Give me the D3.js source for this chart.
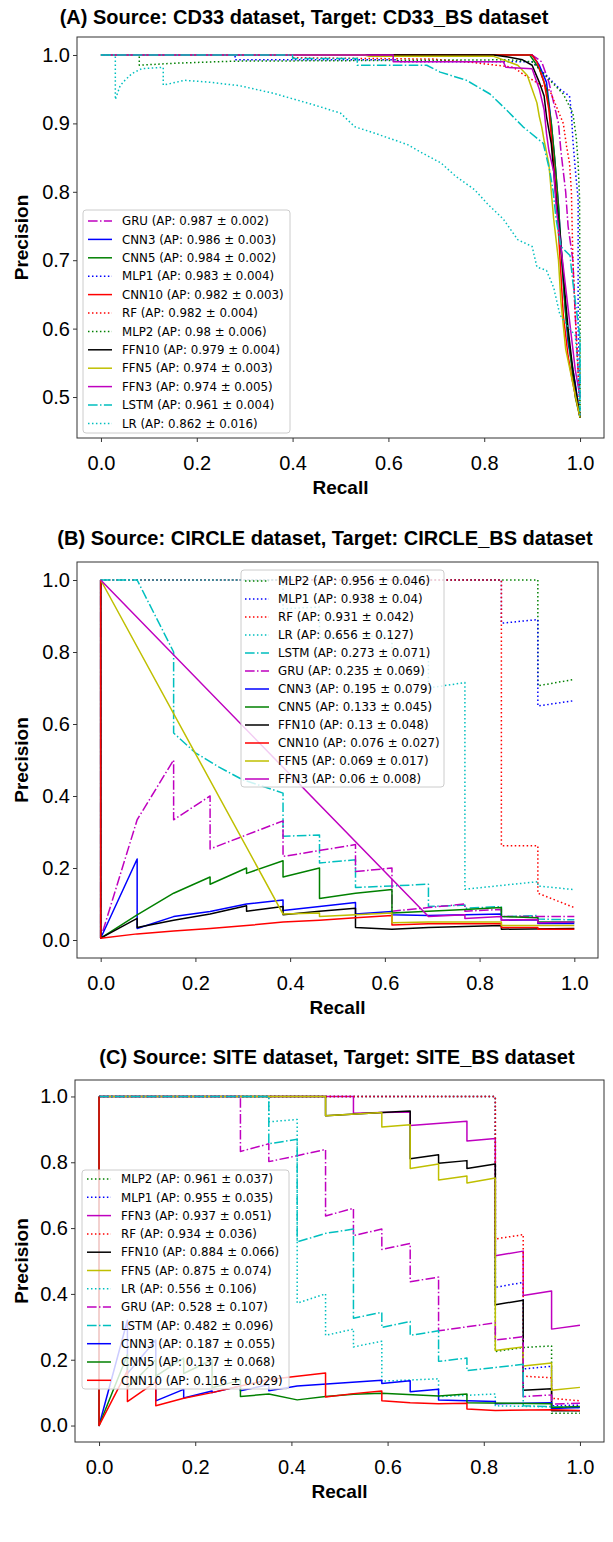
<!DOCTYPE html>
<html>
<head>
<meta charset="utf-8">
<script src="https://cdn.jsdelivr.net/npm/d3@7"></script>
<style>
  body { margin: 0; background: #fff; }
  svg { display: block; }
</style>
</head>
<body>
<script>
// ---------- Panel A: CD33 -> CD33_BS ----------
const A_models = ["GRU", "CNN3", "CNN5", "MLP1", "CNN10", "RF", "MLP2", "FFN10", "FFN5", "FFN3", "LSTM", "LR"];
const A_ap = ["0.987 ± 0.002", "0.986 ± 0.003", "0.984 ± 0.002", "0.983 ± 0.004", "0.982 ± 0.003", "0.982 ± 0.004",
              "0.98 ± 0.006", "0.979 ± 0.004", "0.974 ± 0.003", "0.974 ± 0.005", "0.961 ± 0.004", "0.862 ± 0.016"];
const A_GRU = [[0,1],[0.9,1],[0.92,0.99],[0.935,0.96],[0.945,0.93],[0.955,0.9],[0.96,0.86],[0.97,0.8],[0.975,0.75],[0.985,0.7],[0.99,0.62],[0.995,0.55],[1,0.5]];
const A_CNN3 = [[0,1],[0.9,1],[0.915,0.985],[0.93,0.96],[0.94,0.9],[0.948,0.84],[0.955,0.78],[0.962,0.7],[0.968,0.64],[0.975,0.58],[0.99,0.52],[1,0.47]];
const A_CNN5 = [[0,1],[0.895,1],[0.915,0.98],[0.93,0.95],[0.94,0.9],[0.947,0.85],[0.955,0.78],[0.962,0.7],[0.97,0.62],[0.98,0.56],[0.99,0.5],[1,0.47]];
const A_MLP1 = [[0,1],[0.28,1],[0.28,0.993],[0.62,0.993],[0.62,0.99],[0.9,0.99],[0.93,0.97],[0.958,0.95],[0.978,0.94],[0.982,0.915],[0.985,0.876],[0.989,0.842],[0.992,0.818],[0.996,0.79],[0.996,0.6],[1,0.52]];
const A_CNN10 = [[0,1],[0.9,1],[0.91,0.99],[0.925,0.96],[0.935,0.92],[0.94,0.88],[0.945,0.84],[0.95,0.8],[0.955,0.74],[0.96,0.68],[0.965,0.62],[0.975,0.56],[0.985,0.52],[1,0.47]];
const A_RF = [[0,1],[0.4,1],[0.4,0.996],[0.694,0.994],[0.778,0.989],[0.861,0.982],[0.881,0.972],[0.937,0.948],[0.951,0.924],[0.965,0.9],[0.972,0.866],[0.978,0.842],[0.982,0.8],[0.985,0.7],[0.99,0.62],[0.995,0.55],[1,0.47]];
const A_MLP2 = [[0,1],[0.08,1],[0.08,0.985],[0.154,0.988],[0.28,0.991],[0.6,0.992],[0.85,0.993],[0.9,0.99],[0.944,0.958],[0.965,0.943],[0.985,0.915],[0.992,0.88],[0.996,0.842],[0.999,0.79],[1,0.6],[1,0.47]];
const A_FFN10 = [[0,1],[0.82,1],[0.85,0.997],[0.88,0.993],[0.9,0.985],[0.915,0.96],[0.925,0.94],[0.93,0.91],[0.94,0.87],[0.945,0.83],[0.95,0.79],[0.958,0.74],[0.965,0.68],[0.975,0.6],[0.985,0.54],[1,0.47]];
const A_FFN5 = [[0,1],[0.55,1],[0.56,0.998],[0.82,0.998],[0.87,0.985],[0.89,0.97],[0.9,0.95],[0.91,0.93],[0.915,0.91],[0.92,0.895],[0.925,0.875],[0.935,0.84],[0.94,0.8],[0.945,0.76],[0.955,0.7],[0.96,0.64],[0.97,0.57],[0.985,0.52],[1,0.47]];
const A_FFN3 = [[0,1],[0.61,1],[0.61,0.99],[0.84,0.99],[0.845,0.982],[0.9,0.98],[0.915,0.95],[0.925,0.92],[0.93,0.885],[0.935,0.86],[0.945,0.83],[0.95,0.78],[0.96,0.72],[0.97,0.66],[0.98,0.6],[0.99,0.54],[1,0.5]];
const A_LSTM = [[0,1],[0.4,1],[0.4,0.995],[0.535,0.995],[0.535,0.985],[0.68,0.985],[0.708,0.975],[0.763,0.963],[0.812,0.943],[0.846,0.92],[0.881,0.895],[0.923,0.871],[0.937,0.83],[0.944,0.8],[0.95,0.76],[0.96,0.72],[0.979,0.707],[0.985,0.668],[1,0.586],[1,0.48]];
const A_LR = [[0,1],[0.03,1],[0.03,0.935],[0.04,0.955],[0.05,0.963],[0.065,0.973],[0.085,0.98],[0.13,0.982],[0.13,0.956],[0.175,0.963],[0.23,0.96],[0.29,0.955],[0.36,0.944],[0.44,0.928],[0.5,0.915],[0.53,0.895],[0.57,0.886],[0.64,0.869],[0.67,0.857],[0.71,0.842],[0.74,0.823],[0.78,0.803],[0.81,0.78],[0.84,0.76],[0.87,0.73],[0.9,0.72],[0.91,0.69],[0.93,0.685],[0.945,0.66],[0.958,0.62],[0.978,0.6],[0.99,0.59],[0.995,0.55],[1,0.47]];

// ---------- Panel B: CIRCLE -> CIRCLE_BS ----------
const B_models = ["MLP2", "MLP1", "RF", "LR", "LSTM", "GRU", "CNN3", "CNN5", "FFN10", "CNN10", "FFN5", "FFN3"];
const B_ap = ["0.956 ± 0.046", "0.938 ± 0.04", "0.931 ± 0.042", "0.656 ± 0.127", "0.273 ± 0.071", "0.235 ± 0.069",
              "0.195 ± 0.079", "0.133 ± 0.045", "0.13 ± 0.048", "0.076 ± 0.027", "0.069 ± 0.017", "0.06 ± 0.008"];
const B_MLP2 = [[0,1],[0.923,1],[0.923,0.706],[1,0.724]];
const B_MLP1 = [[0,1],[0.846,1],[0.846,0.88],[0.923,0.89],[0.923,0.65],[1,0.665]];
const B_RF = [[0,1],[0.846,1],[0.846,0.262],[0.923,0.262],[0.923,0.13],[1,0.09]];
const B_LR = [[0,1],[0.385,1],[0.385,0.92],[0.462,0.925],[0.462,0.84],[0.615,0.845],[0.615,0.78],[0.692,0.783],[0.692,0.7],[0.769,0.715],[0.769,0.141],[0.923,0.162],[0.923,0.15],[1,0.14]];
const B_LSTM = [[0,1],[0.077,1],[0.154,0.8],[0.154,0.575],[0.2,0.52],[0.25,0.48],[0.3,0.445],[0.385,0.408],[0.385,0.288],[0.462,0.292],[0.462,0.214],[0.538,0.223],[0.538,0.146],[0.615,0.15],[0.692,0.155],[0.692,0.093],[0.769,0.097],[0.769,0.088],[0.846,0.093],[0.846,0.065],[0.923,0.068],[0.923,0.058],[1,0.056]];
const B_GRU = [[0,1],[0,0.005],[0.077,0.334],[0.154,0.5],[0.154,0.334],[0.231,0.4],[0.231,0.253],[0.385,0.331],[0.385,0.232],[0.538,0.265],[0.538,0.19],[0.615,0.2],[0.615,0.08],[0.692,0.09],[0.769,0.1],[0.769,0.08],[0.846,0.085],[0.846,0.065],[1,0.065]];
const B_CNN3 = [[0,1],[0,0.005],[0.077,0.225],[0.077,0.032],[0.154,0.065],[0.231,0.079],[0.308,0.1],[0.385,0.111],[0.385,0.082],[0.462,0.093],[0.538,0.104],[0.538,0.072],[0.615,0.079],[0.615,0.07],[0.692,0.068],[0.769,0.07],[0.846,0.072],[0.846,0.055],[0.923,0.056],[0.923,0.046],[1,0.046]];
const B_CNN5 = [[0,1],[0,0.005],[0.077,0.07],[0.154,0.13],[0.231,0.175],[0.231,0.155],[0.308,0.2],[0.308,0.185],[0.385,0.22],[0.385,0.175],[0.462,0.2],[0.462,0.115],[0.538,0.13],[0.615,0.14],[0.615,0.075],[0.692,0.08],[0.769,0.085],[0.846,0.09],[0.846,0.065],[0.923,0.062],[0.923,0.05],[1,0.05]];
const B_FFN10 = [[0,1],[0,0.005],[0.077,0.06],[0.077,0.035],[0.154,0.055],[0.231,0.072],[0.308,0.095],[0.308,0.08],[0.385,0.093],[0.385,0.07],[0.462,0.08],[0.538,0.088],[0.538,0.035],[0.615,0.03],[0.692,0.035],[0.846,0.04],[0.846,0.03],[1,0.032]];
const B_CNN10 = [[0,1],[0,0.005],[0.077,0.017],[0.154,0.025],[0.231,0.032],[0.308,0.04],[0.385,0.05],[0.462,0.055],[0.538,0.062],[0.615,0.068],[0.615,0.042],[0.692,0.045],[0.769,0.045],[0.846,0.045],[0.846,0.035],[0.923,0.035],[0.923,0.03],[1,0.03]];
const B_FFN5 = [[0,1],[0.385,0.072],[0.462,0.075],[0.462,0.065],[0.538,0.07],[0.615,0.075],[0.615,0.048],[0.692,0.05],[0.769,0.05],[0.846,0.05],[0.846,0.04],[1,0.04]];
const B_FFN3 = [[0,1],[0.692,0.065],[0.769,0.07],[0.769,0.06],[0.846,0.065],[0.846,0.055],[0.923,0.057],[0.923,0.048],[1,0.05]];

// ---------- Panel C: SITE -> SITE_BS ----------
const C_models = ["MLP2", "MLP1", "FFN3", "RF", "FFN10", "FFN5", "LR", "GRU", "LSTM", "CNN3", "CNN5", "CNN10"];
const C_ap = ["0.961 ± 0.037", "0.955 ± 0.035", "0.937 ± 0.051", "0.934 ± 0.036", "0.884 ± 0.066", "0.875 ± 0.074",
              "0.556 ± 0.106", "0.528 ± 0.107", "0.482 ± 0.096", "0.187 ± 0.055", "0.137 ± 0.068", "0.116 ± 0.029"];
const C_MLP2 = [[0,1],[0.824,1],[0.824,0.225],[0.882,0.237],[0.941,0.242],[0.941,0.037],[1,0.037]];
const C_MLP1 = [[0,1],[0.824,1],[0.824,0.42],[0.882,0.435],[0.882,0.172],[0.941,0.18],[0.941,0.06],[1,0.062]];
const C_FFN3 = [[0,1],[0.529,1],[0.529,0.949],[0.588,0.951],[0.647,0.953],[0.647,0.912],[0.765,0.925],[0.765,0.865],[0.824,0.872],[0.824,0.516],[0.882,0.53],[0.882,0.395],[0.941,0.409],[0.941,0.293],[1,0.305]];
const C_RF = [[0,1],[0.824,1],[0.824,0.567],[0.882,0.58],[0.882,0.15],[0.941,0.145],[0.941,0.083],[1,0.075]];
const C_FFN10 = [[0,1],[0.471,1],[0.471,0.941],[0.588,0.951],[0.647,0.956],[0.647,0.811],[0.706,0.823],[0.706,0.797],[0.765,0.805],[0.765,0.781],[0.824,0.795],[0.824,0.367],[0.882,0.381],[0.882,0.107],[0.941,0.112],[0.941,0.045],[1,0.045]];
const C_FFN5 = [[0,1],[0.471,1],[0.471,0.941],[0.588,0.951],[0.588,0.907],[0.647,0.914],[0.647,0.781],[0.706,0.795],[0.706,0.746],[0.765,0.758],[0.765,0.737],[0.824,0.752],[0.824,0.228],[0.882,0.239],[0.882,0.181],[0.941,0.19],[0.941,0.107],[1,0.116]];
const C_LR = [[0,1],[0.353,1],[0.353,0.923],[0.412,0.93],[0.412,0.372],[0.471,0.4],[0.471,0.274],[0.529,0.293],[0.529,0.239],[0.588,0.256],[0.588,0.135],[0.706,0.142],[0.706,0.088],[0.824,0.096],[0.824,0.06],[1,0.055]];
const C_GRU = [[0,1],[0.294,1],[0.294,0.833],[0.353,0.856],[0.353,0.802],[0.412,0.82],[0.471,0.839],[0.471,0.637],[0.529,0.66],[0.529,0.577],[0.588,0.597],[0.588,0.535],[0.647,0.553],[0.647,0.437],[0.706,0.451],[0.706,0.288],[0.765,0.3],[0.824,0.312],[0.824,0.26],[0.882,0.27],[0.882,0.088],[0.941,0.093],[0.941,0.065],[1,0.068]];
const C_LSTM = [[0,1],[0.353,1],[0.353,0.856],[0.412,0.87],[0.412,0.558],[0.471,0.584],[0.529,0.597],[0.529,0.326],[0.588,0.344],[0.588,0.298],[0.647,0.316],[0.647,0.274],[0.706,0.288],[0.706,0.195],[0.765,0.205],[0.765,0.167],[0.882,0.186],[0.882,0.06],[1,0.055]];
const C_CNN3 = [[0,1],[0,0],[0.059,0.32],[0.059,0.158],[0.118,0.26],[0.118,0.075],[0.176,0.11],[0.176,0.084],[0.235,0.105],[0.235,0.1],[0.294,0.12],[0.294,0.106],[0.353,0.124],[0.353,0.106],[0.412,0.12],[0.588,0.138],[0.588,0.128],[0.647,0.136],[0.647,0.103],[0.706,0.11],[0.706,0.078],[0.824,0.073],[0.824,0.066],[0.941,0.069],[0.941,0.052],[1,0.055]];
const C_CNN5 = [[0,1],[0,0],[0.059,0.215],[0.059,0.115],[0.118,0.2],[0.118,0.15],[0.176,0.205],[0.176,0.158],[0.235,0.2],[0.235,0.115],[0.294,0.138],[0.294,0.088],[0.353,0.096],[0.412,0.078],[0.471,0.088],[0.529,0.095],[0.588,0.098],[0.706,0.09],[0.765,0.096],[0.765,0.069],[0.941,0.066],[0.941,0.055],[1,0.058]];
const C_CNN10 = [[0,1],[0,0],[0.059,0.167],[0.059,0.073],[0.118,0.133],[0.118,0.06],[0.176,0.083],[0.235,0.1],[0.294,0.12],[0.353,0.14],[0.412,0.15],[0.471,0.16],[0.471,0.087],[0.529,0.097],[0.588,0.105],[0.588,0.075],[0.647,0.069],[0.706,0.066],[0.765,0.068],[0.765,0.05],[0.824,0.046],[0.941,0.048],[1,0.046]];

// Tick values
const xTicks = [0, 0.2, 0.4, 0.6, 0.8, 1.0];
const yTicksA = [0.5, 0.6, 0.7, 0.8, 0.9, 1.0];
const yTicksBC = [0, 0.2, 0.4, 0.6, 0.8, 1.0];

// Line style per model (matplotlib single-letter colours)
const STYLE = {
  GRU:   { color: "#bf00bf", dash: "dashdot" },
  CNN3:  { color: "#0000ff", dash: "solid" },
  CNN5:  { color: "#008000", dash: "solid" },
  MLP1:  { color: "#0000ff", dash: "dotted" },
  CNN10: { color: "#ff0000", dash: "solid" },
  RF:    { color: "#ff0000", dash: "dotted" },
  MLP2:  { color: "#008000", dash: "dotted" },
  FFN10: { color: "#000000", dash: "solid" },
  FFN5:  { color: "#bfbf00", dash: "solid" },
  FFN3:  { color: "#bf00bf", dash: "solid" },
  LSTM:  { color: "#00bfbf", dash: "dashdot" },
  LR:    { color: "#00bfbf", dash: "dotted" }
};
const DASH = { solid: null, dotted: "1.5,2.475", dashdot: "9.6,2.4,1.5,2.4" };

const curvesA = { GRU: A_GRU, CNN3: A_CNN3, CNN5: A_CNN5, MLP1: A_MLP1, CNN10: A_CNN10, RF: A_RF, MLP2: A_MLP2,
                  FFN10: A_FFN10, FFN5: A_FFN5, FFN3: A_FFN3, LSTM: A_LSTM, LR: A_LR };
const curvesB = { MLP2: B_MLP2, MLP1: B_MLP1, RF: B_RF, LR: B_LR, LSTM: B_LSTM, GRU: B_GRU, CNN3: B_CNN3,
                  CNN5: B_CNN5, FFN10: B_FFN10, CNN10: B_CNN10, FFN5: B_FFN5, FFN3: B_FFN3 };
const curvesC = { MLP2: C_MLP2, MLP1: C_MLP1, FFN3: C_FFN3, RF: C_RF, FFN10: C_FFN10, FFN5: C_FFN5, LR: C_LR,
                  GRU: C_GRU, LSTM: C_LSTM, CNN3: C_CNN3, CNN5: C_CNN5, CNN10: C_CNN10 };

const W = 613, H = 1542;
const FONT = "'Liberation Sans', Arial, sans-serif";
const svg = d3.select("body").append("svg").attr("width", W).attr("height", H).style("font-family", FONT);

function drawPanel(p) {
  const g = svg.append("g");
  const x = d3.scaleLinear().domain([-0.05, 1.05]).range([p.left, p.right]);
  const y = d3.scaleLinear().domain(p.yDomain).range([p.bottom, p.top]);

  const clipId = "clip-" + p.id;
  svg.append("clipPath").attr("id", clipId)
    .append("rect").attr("x", p.left).attr("y", p.top)
    .attr("width", p.right - p.left).attr("height", p.bottom - p.top);

  // precision-recall curves
  const line = d3.line().x(d => x(d[0])).y(d => y(d[1]));
  const plot = g.append("g").attr("clip-path", `url(#${clipId})`);
  p.models.forEach(m => {
    const st = STYLE[m];
    plot.append("path")
      .attr("d", line(p.curves[m]))
      .attr("fill", "none")
      .attr("stroke", st.color)
      .attr("stroke-width", 1.5)
      .attr("stroke-linejoin", "round")
      .attr("stroke-dasharray", DASH[st.dash]);
  });

  // axes
  const xAxis = d3.axisBottom(x).tickValues(xTicks).tickFormat(d3.format(".1f")).tickSize(4);
  const yAxis = d3.axisLeft(y).tickValues(p.yTicks).tickFormat(d3.format(".1f")).tickSize(4).tickPadding(3);
  const gx = g.append("g").attr("transform", `translate(0,${p.bottom})`).call(xAxis);
  const gy = g.append("g").attr("transform", `translate(${p.left},0)`).call(yAxis);
  [gx, gy].forEach(a => {
    a.select(".domain").remove();
    a.selectAll(".tick line").attr("stroke", "#000").attr("stroke-width", 0.8);
    a.selectAll(".tick text").attr("fill", "#000").style("font-size", "20px").style("font-family", FONT);
  });
  gx.selectAll(".tick text").attr("y", 32).attr("dy", 0);

  // frame
  g.append("rect").attr("x", p.left).attr("y", p.top)
    .attr("width", p.right - p.left).attr("height", p.bottom - p.top)
    .attr("fill", "none").attr("stroke", "#333").attr("stroke-width", 1);

  // title and axis labels
  g.append("text").attr("x", p.titleX).attr("y", p.titleY).attr("text-anchor", "middle")
    .style("font-size", "20px").style("font-weight", "bold").text(p.title);
  g.append("text").attr("x", (p.left + p.right) / 2).attr("y", p.bottom + 56).attr("text-anchor", "middle")
    .style("font-size", "19px").style("font-weight", "bold").text("Recall");
  g.append("text").attr("transform", `translate(${p.ylabelX},${(p.top + p.bottom) / 2}) rotate(-90)`)
    .attr("text-anchor", "middle").style("font-size", "19px").style("font-weight", "bold").text("Precision");

  // legend
  const L = p.legend;
  const lg = g.append("g");
  lg.append("rect").attr("x", L.x).attr("y", L.y).attr("width", L.w).attr("height", L.h)
    .attr("rx", 3).attr("fill", "#fff").attr("fill-opacity", 0.8)
    .attr("stroke", "#cccccc").attr("stroke-width", 1);
  p.models.forEach((m, i) => {
    const st = STYLE[m];
    const yy = L.row0 + i * L.step;
    lg.append("line").attr("x1", L.hx0).attr("x2", L.hx1).attr("y1", yy).attr("y2", yy)
      .attr("stroke", st.color).attr("stroke-width", 1.5).attr("stroke-dasharray", DASH[st.dash]);
    lg.append("text").attr("x", L.tx).attr("y", yy).attr("dy", "0.36em")
      .style("font-family", "'DejaVu Sans', sans-serif").style("font-size", "11.8px").attr("fill", "#000")
      .text(`${m} (AP: ${p.ap[i]})`);
  });
}

drawPanel({
  id: "a", left: 77, right: 604, top: 37, bottom: 438, yDomain: [0.4401, 1.0263], yTicks: yTicksA,
  title: "(A) Source: CD33 dataset, Target: CD33_BS dataset", titleX: 304, titleY: 24, ylabelX: 28,
  models: A_models, ap: A_ap, curves: curvesA,
  legend: { x: 83, y: 210, w: 207, h: 223, row0: 221, step: 18.4, hx0: 88, hx1: 112, tx: 122 }
});
drawPanel({
  id: "b", left: 77, right: 598, top: 562, bottom: 958, yDomain: [-0.05, 1.05], yTicks: yTicksBC,
  title: "(B) Source: CIRCLE dataset, Target: CIRCLE_BS dataset", titleX: 325, titleY: 545, ylabelX: 28,
  models: B_models, ap: B_ap, curves: curvesB,
  legend: { x: 241, y: 570, w: 203, h: 217, row0: 581, step: 18, hx0: 245, hx1: 269, tx: 278 }
});
drawPanel({
  id: "c", left: 75, right: 604, top: 1080, bottom: 1442, yDomain: [-0.05, 1.05], yTicks: yTicksBC,
  title: "(C) Source: SITE dataset, Target: SITE_BS dataset", titleX: 337, titleY: 1064, ylabelX: 28,
  models: C_models, ap: C_ap, curves: curvesC,
  legend: { x: 82, y: 1170, w: 207, h: 219, row0: 1179, step: 18.3, hx0: 87, hx1: 111, tx: 121 }
});
</script>
</body>
</html>
